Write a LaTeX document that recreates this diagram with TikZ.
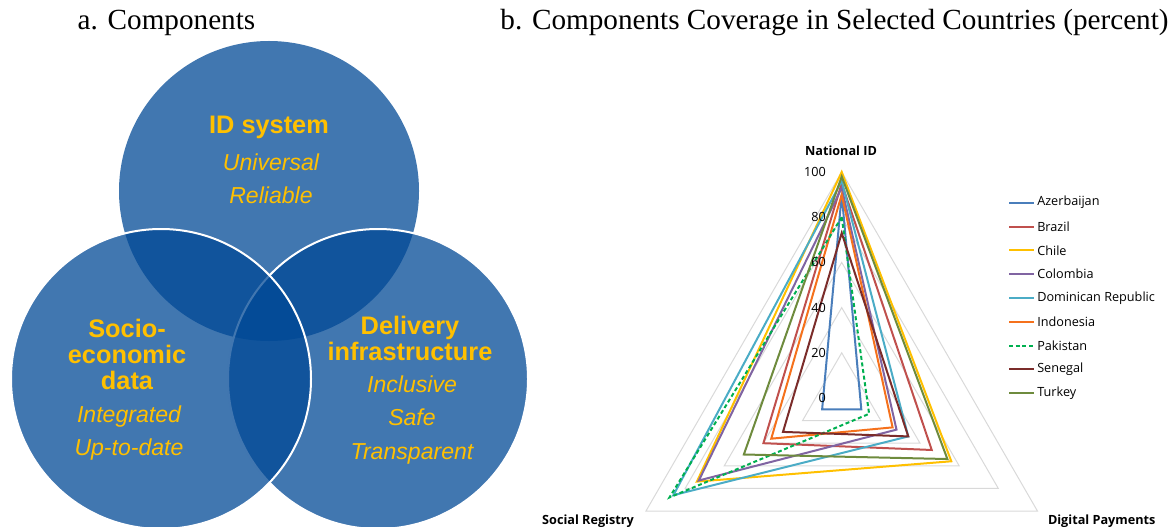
\documentclass[tikz,border=0pt]{standalone}
\usepackage{fontspec}
\setmainfont{Liberation Serif}
\newfontfamily\arialfont{Liberation Sans}
\newfontfamily\chartfont{Open Sans}
\usepackage{tikz}

\definecolor{vennblue}{RGB}{0,72,149}
\definecolor{vennyellow}{RGB}{255,192,0}
\definecolor{gridgray}{RGB}{217,217,217}
\definecolor{aze}{RGB}{74,126,187}
\definecolor{bra}{RGB}{192,80,77}
\definecolor{chi}{RGB}{255,192,0}
\definecolor{col}{RGB}{128,100,162}
\definecolor{dom}{RGB}{75,172,198}
\definecolor{ind}{RGB}{245,113,28}
\definecolor{pak}{RGB}{0,176,80}
\definecolor{sen}{RGB}{123,44,42}
\definecolor{tur}{RGB}{110,139,61}

\tikzset{
    venn/.style={fill=vennblue, fill opacity=0.745},
    vennrim/.style={venn, draw=white, draw opacity=1, line width=1.5pt},
    head/.style={text=vennyellow, align=center, font=\arialfont\bfseries\fontsize{19}{19.5}\selectfont},
    quality/.style={text=vennyellow, align=center, font=\arialfont\itshape\fontsize{17.3}{25}\selectfont},
    paneltitle/.style={anchor=base, font=\fontsize{21.9}{24}\selectfont},
    gridline/.style={draw=gridgray, line width=0.75pt},
    series/.style={line width=1.5pt, line join=miter},
    full/.style={},
    dashes/.style={dash pattern=on 3pt off 2pt},
    axislabel/.style={font=\chartfont\bfseries\fontsize{9.5}{11}\selectfont},
    ticklabel/.style={anchor=east, inner sep=0pt, font=\chartfont\fontsize{9.5}{11}\selectfont},
    legendlabel/.style={anchor=west, inner sep=0pt, font=\chartfont\fontsize{9.5}{11}\selectfont}
}

\begin{document}
\begin{tikzpicture}[x=0.75pt, y=-0.75pt]
        \useasboundingbox (0,0) rectangle (1176,527);

        % panel a
        \node[paneltitle] (titleA) at (166.5,29.5) {a. Components};
        \fill[venn] (269,191) circle (150);
        \filldraw[vennrim] (378,379) circle (150);
        \filldraw[vennrim] (161,379) circle (150);

        \node[head] (idsys) at (269,127) {ID system};
        \node[quality] (idsysq) at (271,178.5) {Universal\\Reliable};
        \node[head] (socio) at (127,354) {Socio-\\economic\\data};
        \node[quality] (socioq) at (129,433) {Integrated\\Up-to-date};
        \node[head] (deliv) at (410,338) {Delivery\\infrastructure};
        \node[quality] (delivq) at (412,420) {Inclusive\\Safe\\Transparent};

        % panel b
        \node[paneltitle] (titleB) at (834.5,29.5) {b. Components Coverage in Selected Countries (percent)};

        \begin{scope}[shift={(841.7,398)}]
            \foreach \v in {20,40,...,100}
                \draw[gridline] (-90:{\v*2.26}) -- (30:{\v*2.26}) -- (150:{\v*2.26}) -- cycle;
            \foreach \name/\pat/\id/\dp/\sr in {aze/full/90/10/10, bra/full/95/46/40,
                    chi/full/100/56/74, col/full/93/28/73, dom/full/96/34/86,
                    ind/full/90/26/36, pak/dashes/80/14/88, sen/full/73/34/30,
                    tur/full/98/54/50}
                \draw[series, \name, \pat]
                    (-90:{\id*2.26}) -- (30:{\dp*2.26}) -- (150:{\sr*2.26}) -- cycle;
        \end{scope}

        \foreach \v in {0,20,...,100}
            \node[ticklabel] (tick\v) at (826,{398-2.26*\v}) {\v};

        \node[axislabel] (natid) at (841,151) {National ID};
        \node[axislabel] (socreg) at (588,521) {Social Registry};
        \node[axislabel] (digpay) at (1101.7,521.5) {Digital Payments};

        % legend
        \foreach \name/\pat/\country [count=\i from 0] in {aze/full/Azerbaijan,
                bra/full/Brazil, chi/full/Chile, col/full/Colombia,
                dom/full/Dominican Republic, ind/full/Indonesia, pak/dashes/Pakistan,
                sen/full/Senegal, tur/full/Turkey} {
            \node[legendlabel] (leg\name) at (1037,{202.7+23.8*\i}) {\country};
            \coordinate (sw\name) at (1009,{202.7+23.8*\i});
            \draw[series, \name, \pat] (sw\name) -- ([xshift=-2.25pt]leg\name.west);
        }
\end{tikzpicture}
\end{document}
